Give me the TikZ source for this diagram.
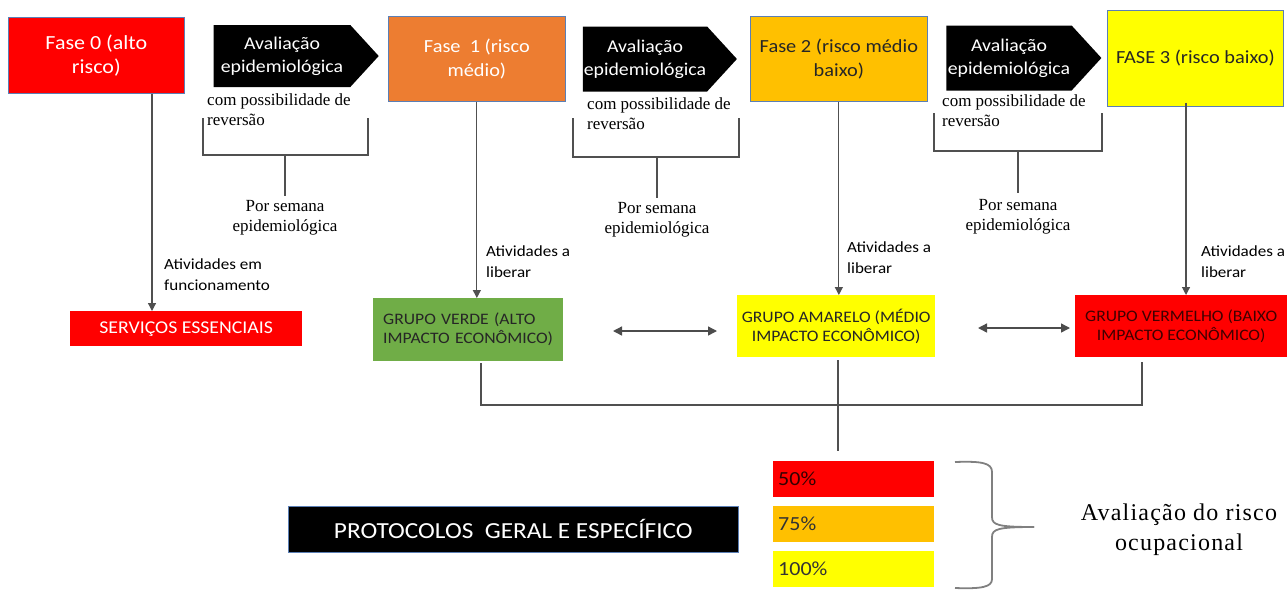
\documentclass[tikz,border=0pt]{standalone}
\usepackage{fontspec}
\setmainfont{Liberation Serif}
\setsansfont{Carlito}[FakeStretch=1.1]
\usetikzlibrary{shapes.symbols,arrows.meta}
\definecolor{vermelho}{HTML}{FF0000}
\definecolor{laranja}{HTML}{ED7D31}
\definecolor{ambar}{HTML}{FFC000}
\definecolor{amarelo}{HTML}{FFFF00}
\definecolor{verde}{HTML}{70AD47}
\definecolor{borda}{HTML}{5B7FB5}
\definecolor{linha}{HTML}{505050}
\newfontfamily\serifaberta{Liberation Serif}[LetterSpace=5]

\begin{document}
\begin{tikzpicture}[x=1pt,y=-1pt,
  fase/.style={draw=borda,line width=0.7pt,anchor=north west,inner sep=2pt,align=center,
    font=\sffamily\fontsize{18.5}{24}\selectfont},
  aval/.style={signal,signal to=east,signal pointer angle=95,fill=black,text=white,inner sep=0pt,
    minimum height=62pt,align=center,font=\sffamily\fontsize{18}{23}\selectfont},
  grupo/.style={anchor=north west,inner sep=0pt,align=center,
    font=\sffamily\fontsize{16}{19}\selectfont},
  pct/.style={anchor=north west,inner sep=0pt,minimum width=161pt,minimum height=36pt,
    text width=151pt,align=left,font=\sffamily\fontsize{20}{22}\selectfont},
  nota/.style={anchor=north west,inner sep=0pt,align=left,font=\fontsize{17}{20}\selectfont},
  semana/.style={anchor=north,inner sep=0pt,align=center,font=\fontsize{17}{20}\selectfont},
  rotulo/.style={anchor=north west,inner sep=0pt,align=left,font=\sffamily\fontsize{15.5}{21}\selectfont},
  seta/.style={draw=linha,line width=1.2pt,-{Triangle[length=8pt,width=8pt]}},
  dupla/.style={draw=black!70,line width=1.4pt,{Triangle[length=9pt,width=9pt]}-{Triangle[length=9pt,width=9pt]}},
  chave/.style={draw=linha,line width=1.4pt}]
\useasboundingbox (0,0) rectangle (1287,590);

% fases
\node[fase,fill=vermelho,text=white,minimum width=176pt,minimum height=76pt,font=\sffamily\fontsize{20}{24}\selectfont] (f0) at (8,17) {Fase 0 (alto\\risco)};
\node[fase,fill=laranja,text=white,minimum width=177pt,minimum height=85pt] (f1) at (388,16) {Fase\ \ 1 (risco\\médio)};
\node[fase,fill=ambar,text=black!85,minimum width=177pt,minimum height=85pt] (f2) at (750,16) {Fase 2 (risco médio\\baixo)};
\node[fase,fill=amarelo,text=black!85,minimum width=176pt,minimum height=96pt] (f3) at (1107,10) {FASE 3 (risco baixo)};

% avaliacao
\node[aval,minimum width=165pt] (a1) at (282,56) {Avaliação\\epidemiológica};
\node[aval,minimum width=154pt,minimum height=65pt] (a2) at (645,59) {Avaliação\\epidemiológica};
\node[aval,minimum width=155pt,minimum height=65pt] (a3) at (1009,58) {Avaliação\\epidemiológica};

% notas
\node[nota] (n1) at (207,93) {com possibilidade de\\reversão};
\node[nota] (n2) at (587,97) {com possibilidade de\\reversão};
\node[nota] (n3) at (942,94) {com possibilidade de\\reversão};
\node[semana] (s1) at (285,200) {Por semana\\epidemiológica};
\node[semana] (s2) at (657,202) {Por semana\\epidemiológica};
\node[semana] (s3) at (1018,199) {Por semana\\epidemiológica};
\coordinate (c1) at (285,155);
\coordinate (c2) at (657,157);
\coordinate (c3) at (1018,151);
\draw[chave] (203,118) |- (c1) -| (368,118);
\draw[chave] (c1) -- (285,196);
\draw[chave] (573,118) |- (c2) -| (739,118);
\draw[chave] (c2) -- (657,198);
\draw[chave] (934,113) |- (c3) -| (1102,113);
\draw[chave] (c3) -- (1018,193);

% grupos
\node[grupo,fill=vermelho,text=white,minimum width=232pt,minimum height=35pt,font=\sffamily\fontsize{18}{22}\selectfont] (serv) at (70,311) {SERVIÇOS ESSENCIAIS};
\node[grupo,fill=verde,text=black!85,minimum width=189pt,minimum height=63pt,text width=170pt,align=left,inner xsep=10pt] (gv) at (373,298) {GRUPO VERDE (ALTO\\IMPACTO ECONÔMICO)};
\node[grupo,fill=amarelo,text=black!85,minimum width=198pt,minimum height=62pt] (ga) at (737,295) {GRUPO AMARELO (MÉDIO\\IMPACTO ECONÔMICO)};
\node[grupo,fill=vermelho,text=black!75!red,minimum width=212pt,minimum height=62pt] (gr) at (1075,295) {GRUPO VERMELHO (BAIXO\\IMPACTO ECONÔMICO)};

% setas
\coordinate (x0) at (152,0);
\coordinate (x3) at (1186,0);
\draw[seta] (x0 |- f0.south) -- (x0 |- serv.north);
\draw[seta] (f1.south) -- (f1.south |- gv.north);
\draw[seta] (f2.south) -- (f2.south |- ga.north);
\draw[seta] ([yshift=4pt]x3 |- f3.south) -- (x3 |- gr.north);
\node[rotulo] (r0) at (164,259) {Atividades em\\funcionamento};
\node[rotulo] (r1) at (486,246) {Atividades a\\liberar};
\node[rotulo] (r2) at (847,242) {Atividades a\\liberar};
\node[rotulo] (r3) at (1201,246) {Atividades a\\liberar};

\coordinate (d1) at (613,331);
\coordinate (d2) at (717,331);
\coordinate (d3) at (978,328);
\coordinate (d4) at (1070,328);
\draw[dupla] (d1) -- (d2);
\draw[dupla] (d3) -- (d4);

% juncao
\coordinate (jv) at (481,405);
\coordinate (ja) at (838,451);
\coordinate (jr) at (1142,405);
\draw[chave] (481,363) -- (jv) -- (jr) -- (1142,362);
\draw[chave] (838,360) -- (ja);

% protocolos
\node[draw=borda,line width=0.7pt,fill=black,text=white,anchor=north west,minimum width=450pt,minimum height=46pt,
  font=\sffamily\fontsize{23}{26}\selectfont] (prot) at (288,506) {PROTOCOLOS\ \ GERAL E ESPECÍFICO};
\node[pct,fill=vermelho,text=black!80!red] (p50) at (773,461) {50\%};
\node[pct,fill=ambar,text=black!80] (p75) at (773,506) {75\%};
\node[pct,fill=amarelo,text=black!80] (p100) at (773,551) {100\%};

% chave
\coordinate (k0) at (955,462);
\coordinate (k1) at (1034,527);
\coordinate (k2) at (955,588);
\draw[draw=gray,line width=1.8pt] (k0) .. controls (982,461) and (992,463) .. (992,472) -- (992,517)
  .. controls (992,525) and (998,527) .. (k1);
\draw[draw=gray,line width=1.8pt] (k1) .. controls (998,527) and (992,529) .. (992,537) -- (992,579)
  .. controls (992,587) and (982,589) .. (k2);
\node[align=center,inner sep=0pt,font=\serifaberta\fontsize{24}{30}\selectfont] (aval) at (1179,530) {Avaliação do risco\\ocupacional};
\end{tikzpicture}
\end{document}
